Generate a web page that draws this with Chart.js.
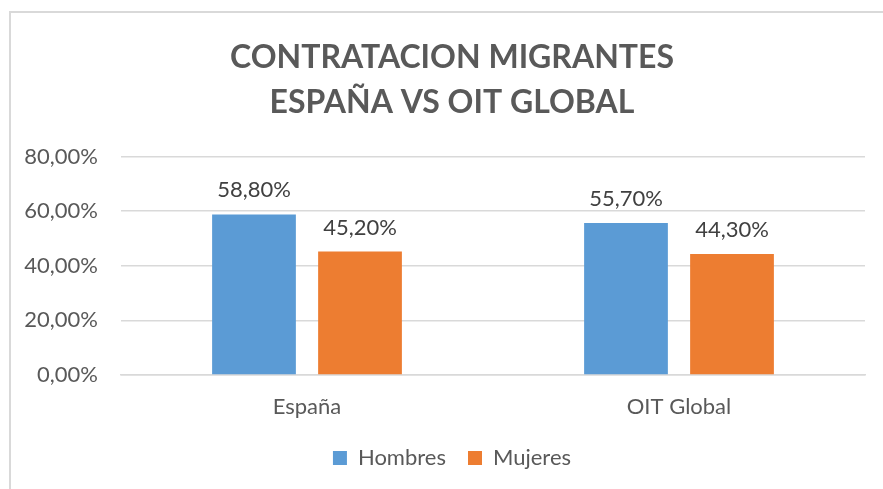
<!DOCTYPE html>
<html lang="es">
<head>
    <meta charset="UTF-8">
    <title>Contratación migrantes</title>
    <style>
        body {
            margin: 0;
            background-color: #ffffff;
        }
        .marco {
            position: absolute;
            left: 9px;
            top: 11px;
            width: 900px;
            height: 500px;
            border-left: 2px solid #d9d9d9;
            border-top: 2px solid #d9d9d9;
        }
        canvas {
            position: absolute;
            left: 0;
            top: 0;
        }
    </style>
    <script src="https://cdn.jsdelivr.net/npm/chart.js"></script>
</head>
<body>
    <div class="marco"></div>
    <canvas id="grafico" width="883" height="489"></canvas>
    <script>
        const categorias = ['España', 'OIT Global'];
        const hombres = [58.8, 55.7];
        const mujeres = [45.2, 44.3];
        const ticksY = [0, 20, 40, 60, 80];

        const gris = '#595959';
        const fmt = v => v.toFixed(2).replace('.', ',') + '%';

        // etiquetas encima de cada barra
        const etiquetas = {
            id: 'etiquetas',
            afterDatasetsDraw(chart) {
                const ctx = chart.ctx;
                ctx.save();
                ctx.font = '22px Lato';
                ctx.fillStyle = '#404040';
                ctx.textAlign = 'center';
                ctx.textBaseline = 'alphabetic';
                chart.data.datasets.forEach((ds, i) => {
                    chart.getDatasetMeta(i).data.forEach((bar, j) => {
                        ctx.fillText(fmt(ds.data[j]), bar.x, bar.y - 17);
                    });
                });
                ctx.restore();
            }
        };

        // textos del eje Y (el eje recorta sus etiquetas, así que van aparte)
        const textosY = {
            id: 'textosY',
            afterDraw(chart) {
                const ctx = chart.ctx;
                const y = chart.scales.y;
                ctx.save();
                ctx.font = '22px Lato';
                ctx.fillStyle = gris;
                ctx.textAlign = 'right';
                ctx.textBaseline = 'middle';
                y.ticks.forEach(t => {
                    ctx.fillText(fmt(t.value), y.right - 23, y.getPixelForValue(t.value));
                });
                ctx.restore();
            }
        };

        new Chart(document.getElementById('grafico'), {
            type: 'bar',
            data: {
                labels: categorias,
                datasets: [
                    { label: 'Hombres', data: hombres, backgroundColor: '#5b9bd5' },
                    { label: 'Mujeres', data: mujeres, backgroundColor: '#ed7d31' }
                ]
            },
            options: {
                responsive: false,
                animation: false,
                categoryPercentage: 0.57,
                barPercentage: 0.79,
                layout: { padding: { left: 39, right: 18, top: 0, bottom: 10 } },
                plugins: {
                    title: {
                        display: true,
                        text: ['CONTRATACION MIGRANTES', 'ESPAÑA VS OIT GLOBAL'],
                        color: gris,
                        font: { family: 'Lato', size: 32, weight: 'bold', lineHeight: 1.4 },
                        padding: { top: 35, bottom: 32 }
                    },
                    legend: {
                        position: 'bottom',
                        labels: {
                            color: gris,
                            font: { family: 'Lato', size: 22 },
                            boxWidth: 14,
                            boxHeight: 14,
                            padding: 22
                        }
                    },
                    tooltip: { enabled: false }
                },
                scales: {
                    x: {
                        grid: { display: false },
                        border: { color: '#d9d9d9', width: 1.5 },
                        ticks: { color: gris, font: { family: 'Lato', size: 22 }, padding: 11 },
                        afterFit: s => { s.height = 50; }
                    },
                    y: {
                        min: 0,
                        max: 80,
                        afterBuildTicks: s => { s.ticks = ticksY.map(v => ({ value: v })); },
                        grid: { color: '#d9d9d9', lineWidth: 1.5, drawTicks: false },
                        border: { display: false },
                        ticks: { display: false },
                        afterFit: s => { s.width = 82; }
                    }
                }
            },
            plugins: [etiquetas, textosY]
        });
    </script>
</body>
</html>
